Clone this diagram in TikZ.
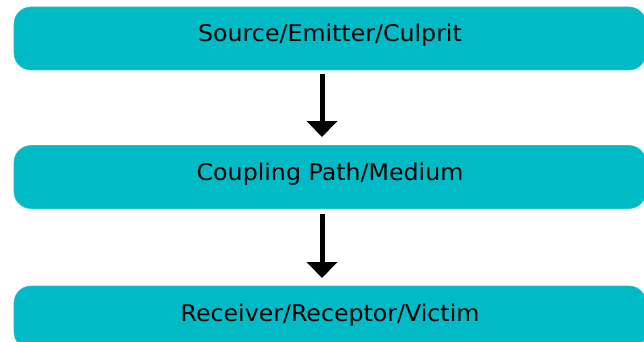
\documentclass[tikz,border=0pt]{standalone}
\usepackage{fontspec}
\setmainfont[FakeStretch=1.03]{DejaVu Sans}
\usetikzlibrary{arrows.meta}
\definecolor{boxfill}{HTML}{00BAC6}
\begin{document}
\begin{tikzpicture}[x=1pt,y=-1pt,
  stage/.style={fill=boxfill, draw=boxfill!85!white, line width=0.6pt, rounded corners=17pt,
    minimum width=632pt, minimum height=63pt, inner sep=0pt,
    text height=17pt, text depth=10pt,
    font=\fontsize{23}{26}\selectfont, text=black},
  flow/.style={line width=5pt, -{Triangle[width=30pt,length=16pt]}}]
\useasboundingbox (0,0) rectangle (644,342);
\begin{scope}
\clip (0,0) rectangle (644,342);
\node[stage] (src) at (330,38.5) {Source/Emitter/Culprit};
\node[stage] (path) at (330,177) {Coupling Path/Medium};
\node[stage] (rcv) at (330,317.5) {Receiver/Receptor/Victim};
\end{scope}
\coordinate (a1s) at (322,74);
\coordinate (a1e) at (322,137);
\coordinate (a2s) at (322,214);
\coordinate (a2e) at (322,278);
\draw[flow] (a1s) -- (a1e);
\draw[flow] (a2s) -- (a2e);
\end{tikzpicture}
\end{document}
